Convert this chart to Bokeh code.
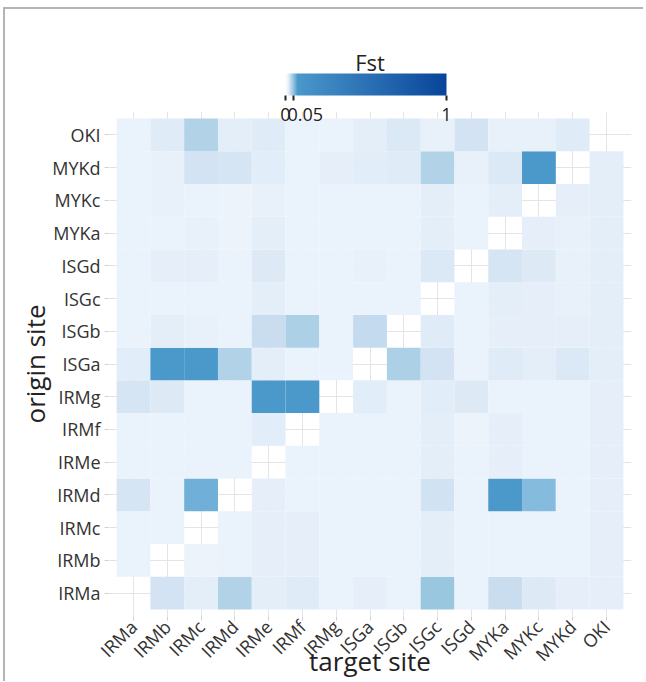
import math
from bokeh.plotting import figure
from bokeh.models import (ColumnDataSource, FactorRange, LinearColorMapper,
                          ColorBar, FixedTicker, CustomJSTickFormatter, AllLabels)
from bokeh.transform import transform
from bokeh.embed import file_html
from bokeh.resources import INLINE

# ---------------- data ----------------
sites = ["IRMa", "IRMb", "IRMc", "IRMd", "IRMe", "IRMf", "IRMg",
         "ISGa", "ISGb", "ISGc", "ISGd", "MYKa", "MYKc", "MYKd", "OKI"]

NA = float("nan")
# Fst from origin site (row) to each target site (columns in `sites` order)
fst_IRMa = [NA, 0.025, 0.018, 0.038, 0.018, 0.020, 0.015, 0.017, 0.015, 0.046, 0.015, 0.029, 0.021, 0.017, 0.017]
fst_IRMb = [0.015, NA, 0.014, 0.015, 0.017, 0.017, 0.015, 0.015, 0.015, 0.018, 0.015, 0.015, 0.015, 0.015, 0.017]
fst_IRMc = [0.015, 0.015, NA, 0.015, 0.017, 0.017, 0.015, 0.015, 0.015, 0.018, 0.015, 0.015, 0.015, 0.015, 0.017]
fst_IRMd = [0.024, 0.015, 0.062, NA, 0.017, 0.015, 0.015, 0.015, 0.015, 0.026, 0.015, 0.078, 0.054, 0.015, 0.017]
fst_IRMe = [0.015, 0.015, 0.015, 0.015, NA, 0.015, 0.015, 0.015, 0.015, 0.018, 0.015, 0.017, 0.015, 0.015, 0.017]
fst_IRMf = [0.015, 0.015, 0.015, 0.015, 0.019, NA, 0.015, 0.015, 0.015, 0.018, 0.014, 0.017, 0.015, 0.015, 0.017]
fst_IRMg = [0.024, 0.021, 0.015, 0.015, 0.076, 0.076, NA, 0.019, 0.015, 0.019, 0.021, 0.015, 0.015, 0.015, 0.017]
fst_ISGa = [0.019, 0.078, 0.078, 0.038, 0.018, 0.015, 0.015, NA, 0.040, 0.025, 0.015, 0.020, 0.018, 0.022, 0.018]
fst_ISGb = [0.015, 0.018, 0.016, 0.015, 0.029, 0.040, 0.015, 0.031, NA, 0.020, 0.015, 0.017, 0.017, 0.017, 0.018]
fst_ISGc = [0.015, 0.015, 0.015, 0.015, 0.018, 0.015, 0.015, 0.015, 0.015, NA, 0.015, 0.018, 0.017, 0.016, 0.018]
fst_ISGd = [0.015, 0.017, 0.017, 0.015, 0.021, 0.015, 0.015, 0.016, 0.015, 0.022, NA, 0.024, 0.021, 0.016, 0.018]
fst_MYKa = [0.015, 0.015, 0.016, 0.014, 0.018, 0.015, 0.015, 0.015, 0.015, 0.018, 0.015, NA, 0.017, 0.016, 0.018]
fst_MYKc = [0.015, 0.016, 0.015, 0.014, 0.016, 0.015, 0.015, 0.015, 0.015, 0.018, 0.015, 0.018, NA, 0.017, 0.018]
fst_MYKd = [0.015, 0.016, 0.025, 0.024, 0.019, 0.015, 0.017, 0.019, 0.020, 0.038, 0.016, 0.022, 0.077, NA, 0.018]
fst_OKI  = [0.015, 0.020, 0.038, 0.018, 0.020, 0.015, 0.015, 0.018, 0.022, 0.016, 0.025, 0.016, 0.016, 0.020, NA]

origin_rows = [fst_IRMa, fst_IRMb, fst_IRMc, fst_IRMd, fst_IRMe, fst_IRMf, fst_IRMg,
               fst_ISGa, fst_ISGb, fst_ISGc, fst_ISGd, fst_MYKa, fst_MYKc, fst_MYKd, fst_OKI]

colorbar_ticks = [0, 0.05, 1]

# ---------------- colour scale ----------------
scale_stops = [(0.000, "#ffffff"), (0.010, "#f2f7fd"), (0.015, "#ebf3fb"),
               (0.022, "#dce9f6"), (0.030, "#c8dcef"), (0.038, "#b3d3e8"),
               (0.046, "#9bc8e0"), (0.054, "#86bcdd"), (0.062, "#72b1d9"),
               (0.075, "#4b98cb"), (1.000, "#08459a")]


def hex_rgb(h):
    return tuple(int(h[i:i + 2], 16) for i in (1, 3, 5))


def colour_at(v):
    for (v0, c0), (v1, c1) in zip(scale_stops[:-1], scale_stops[1:]):
        if v0 <= v <= v1:
            t = (v - v0) / (v1 - v0)
            a, b = hex_rgb(c0), hex_rgb(c1)
            return "#%02x%02x%02x" % tuple(round(a[k] + (b[k] - a[k]) * t) for k in range(3))
    return scale_stops[-1][1]


N = 1000
palette = [colour_at((i + 0.5) / N) for i in range(N)]
mapper = LinearColorMapper(palette=palette, low=0, high=1)

# ---------------- table ----------------
xs, ys, vals = [], [], []
for origin, row in zip(sites, origin_rows):
    for target, v in zip(sites, row):
        if not math.isnan(v):
            xs.append(target)
            ys.append(origin)
            vals.append(v)
source = ColumnDataSource(dict(target=xs, origin=ys, fst=vals))

FONT = "Open Sans"
FW, FH = 523, 505

p = figure(frame_width=FW, frame_height=FH, margin=(7, 0, 0, 3),
           styles={"border-top": "2px solid #b4b4b4", "border-left": "2px solid #b4b4b4"},
           x_range=FactorRange(factors=sites, range_padding=0.24, range_padding_units="absolute"),
           y_range=FactorRange(factors=sites, range_padding=0.21, range_padding_units="absolute"),
           output_backend="svg", toolbar_location=None,
           min_border_left=103, min_border_right=12, min_border_top=102, min_border_bottom=52)

# colour-bar title
p.title.text = "Fst"
p.title.align = "center"
p.title.text_font = FONT
p.title.text_font_size = "22px"
p.title.text_font_style = "normal"
p.title.text_color = "#222222"
p.title.standoff = 69

p.rect(x="target", y="origin", width=1, height=1, source=source,
       fill_color=transform("fst", mapper), line_color=None)

p.outline_line_color = None
for g in (p.xgrid, p.ygrid):
    g.grid_line_color = "#e4e4e4"
    g.grid_line_width = 1

for ax in (p.xaxis, p.yaxis):
    ax.axis_line_color = None
    ax.major_tick_line_color = "#d0d0d0"
    ax.major_tick_out = 4
    ax.major_tick_in = 0
    ax.major_label_text_font = FONT
    ax.major_label_text_font_size = "18px"
    ax.major_label_text_color = "#333333"
    ax.axis_label_text_font = FONT
    ax.axis_label_text_font_size = "26px"
    ax.axis_label_text_font_style = "normal"
    ax.axis_label_text_color = "#222222"

p.xaxis.axis_label = "target site"
p.yaxis.axis_label = "origin site"
p.xaxis.major_label_orientation = math.pi / 4
p.xaxis.axis_label_standoff = -35
p.yaxis.axis_label_standoff = -4
p.xaxis.major_label_standoff = 3
p.yaxis.major_label_standoff = 4

cb = ColorBar(color_mapper=mapper, orientation="horizontal", width=161, height=22,
              ticker=FixedTicker(ticks=colorbar_ticks),
              formatter=CustomJSTickFormatter(
                  code="return tick == 0.05 ? '\\u00a0\\u00a0\\u00a0\\u00a0\\u00a00.05' : String(tick);"),
              major_label_policy=AllLabels(),
              major_label_text_font=FONT, major_label_text_font_size="18px",
              major_label_text_color="#222222",
              label_standoff=1,
              major_tick_out=5, major_tick_in=0, major_tick_line_color="#222222",
              major_tick_line_width=2, bar_line_color=None, padding=0,
              background_fill_color=None, border_line_color=None,
              location=(177, FH - 17))
p.add_layout(cb, "center")

open("out.html", "w").write(file_html(p, INLINE))
